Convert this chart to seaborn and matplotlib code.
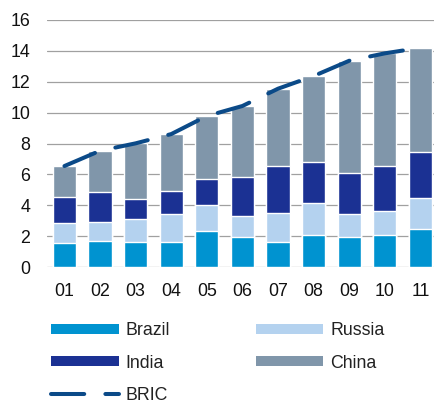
import numpy as np
import pandas as pd
import matplotlib
matplotlib.use("Agg")
import matplotlib.pyplot as plt
from matplotlib.lines import Line2D
import seaborn as sns

# Contributions by country (stacked) and BRIC aggregate
years = ["01", "02", "03", "04", "05", "06", "07", "08", "09", "10", "11"]
brazil = [1.57, 1.66, 1.64, 1.64, 2.33, 1.94, 1.64, 2.07, 1.94, 2.07, 2.48]
russia = [1.26, 1.27, 1.47, 1.79, 1.71, 1.36, 1.83, 2.10, 1.51, 1.56, 2.01]
india = [1.72, 1.93, 1.29, 1.49, 1.64, 2.55, 3.07, 2.65, 2.66, 2.93, 2.98]
china = [1.99, 2.67, 3.61, 3.69, 4.10, 4.58, 5.01, 5.55, 7.25, 7.28, 6.73]
bric = [6.54, 7.53, 8.01, 8.61, 9.78, 10.43, 11.55, 12.37, 13.36, 13.84, 14.20]
yticks = [0, 2, 4, 6, 8, 10, 12, 14, 16]

colors = {
    "Brazil": "#0093d0",
    "Russia": "#b4d2ef",
    "India": "#1b3193",
    "China": "#8096aa",
}
line_color = "#0b4a88"

sns.set_theme(style="white")
plt.rcParams["font.family"] = ["Liberation Sans", "DejaVu Sans"]

df = pd.DataFrame({"year": years, "Brazil": brazil, "Russia": russia,
                   "India": india, "China": china})
cum = df[["Brazil", "Russia", "India", "China"]].cumsum(axis=1)
cum["year"] = years

fig = plt.figure(figsize=(4.35, 4.01), dpi=100)
ax = fig.add_axes([47 / 435, (401 - 267) / 401, 1 - 47 / 435, 247 / 401])

# Stacked bars: draw cumulative totals from the top segment down
for name in ["China", "India", "Russia", "Brazil"]:
    sns.barplot(data=cum, x="year", y=name, color=colors[name], width=0.65,
                saturation=1, ax=ax, zorder=2)

# Dashed BRIC total line
ax.plot(np.arange(len(years)), bric, color=line_color, lw=2.9,
        linestyle=(0, (8.25, 5.25)), dash_capstyle="round",
        solid_capstyle="round", zorder=3)

ax.set_ylim(0, 16)
ax.set_yticks(yticks)
ax.set_xlim(-0.49, 10.41)
ax.set_xlabel("")
ax.set_ylabel("")
ax.yaxis.grid(True, color="#a0a0a0", lw=0.9, zorder=0)
ax.set_axisbelow(True)
for s in ax.spines.values():
    s.set_visible(False)
ax.tick_params(axis="y", length=0, pad=12, labelsize=12.8, colors="#111111")
ax.tick_params(axis="x", length=0, pad=11.5, labelsize=12.8, colors="#111111")

handles = [
    Line2D([], [], color=colors["Brazil"], lw=7.2, solid_capstyle="butt"),
    Line2D([], [], color=colors["India"], lw=7.2, solid_capstyle="butt"),
    Line2D([], [], color=line_color, lw=2.9, linestyle=(0, (8.25, 5.25)),
           dash_capstyle="round"),
    Line2D([], [], color=colors["Russia"], lw=7.2, solid_capstyle="butt"),
    Line2D([], [], color=colors["China"], lw=7.2, solid_capstyle="butt"),
]
labels = ["Brazil", "India", "BRIC", "Russia", "China"]
fig.legend(handles, labels, ncol=2, loc="upper left",
           bbox_to_anchor=(51 / 435, 1 - 322 / 401), frameon=False,
           fontsize=12.8, handlelength=3.8, handletextpad=0.4,
           columnspacing=4.8, labelspacing=0.88, borderpad=0,
           borderaxespad=0, labelcolor="#222222")

fig.savefig("out.png", dpi=100)
